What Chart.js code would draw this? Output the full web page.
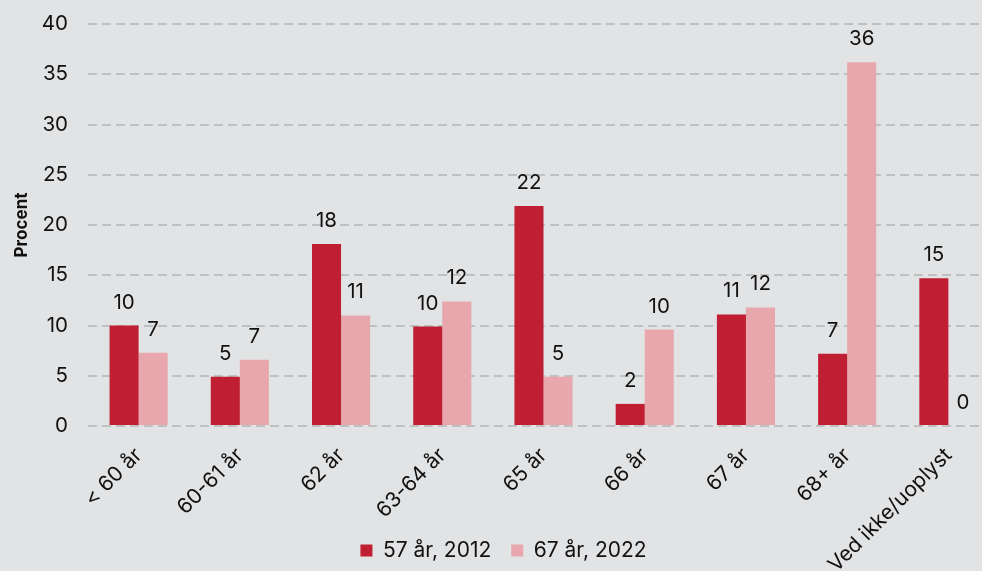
<!DOCTYPE html>
<html><head><meta charset="utf-8">
<script src="https://cdn.jsdelivr.net/npm/chart.js@4/dist/chart.umd.min.js"></script>
<style>
html,body{margin:0;padding:0;background:#e2e3e5;overflow:hidden;}
#wrap{width:982px;height:571px;position:relative;overflow:hidden;}
</style></head>
<body><div id="wrap"><canvas id="c" width="1000" height="571"></canvas></div>
<script>
const categories = ["< 60 år","60-61 år","62 år","63-64 år","65 år","66 år","67 år","68+ år","Ved ikke/uoplyst"];
const series2012 = [10.0, 4.9, 18.1, 9.9, 21.9, 2.2, 11.1, 7.2, 14.7];
const series2022 = [7.3, 6.6, 11.0, 12.4, 4.9, 9.6, 11.8, 36.2, 0];
const seriesNames = ["57 år, 2012","67 år, 2022"];
const yTicks = [0,5,10,15,20,25,30,35,40];

const FONT = "Inter, 'Noto Sans', sans-serif";

const labelPlugin = {
  id:'barLabels',
  afterDatasetsDraw(chart){
    const ctx = chart.ctx;
    ctx.save();
    ctx.font = "20.5px " + FONT;
    ctx.fillStyle = "#111";
    ctx.textAlign = "center";
    ctx.textBaseline = "alphabetic";
    chart.data.datasets.forEach((ds,i)=>{
      const meta = chart.getDatasetMeta(i);
      meta.data.forEach((bar,j)=>{
        const v = ds.data[j];
        ctx.fillText(String(Math.round(v)), bar.x, bar.y - 17);
      });
    });
    ctx.restore();
  }
};

new Chart(document.getElementById('c'), {
  type:'bar',
  data:{
    labels:categories,
    datasets:[
      {label:seriesNames[0], data:series2012, backgroundColor:'#c01e32', categoryPercentage:0.574, barPercentage:1},
      {label:seriesNames[1], data:series2022, backgroundColor:'#e8a7ac', categoryPercentage:0.574, barPercentage:1}
    ]
  },
  options:{
    responsive:false,
    animation:false,
    layout:{padding:{top:24,right:1,left:8,bottom:0}},
    plugins:{
      legend:{
        position:'bottom',
        labels:{boxWidth:12, boxHeight:12, font:{family:FONT,size:21}, color:'#111', padding:20}
      },
      tooltip:{enabled:false}
    },
    scales:{
      x:{
        grid:{display:false, drawTicks:false},
        border:{display:false},
        ticks:{maxRotation:45, minRotation:45, font:{family:FONT,size:21}, color:'#111', padding:17},
        afterFit(scale){ scale.height = 94; scale._computeLabelArea = () => undefined; }
      },
      y:{
        min:0, max:40,
        afterBuildTicks(axis){ axis.ticks = yTicks.map(v=>({value:v})); },
        grid:{color:'#bfc0c2', lineWidth:2, drawTicks:false},
        border:{display:false, dash:[9,5]},
        ticks:{font:{family:FONT,size:20.5}, color:'#111', padding:20},
        title:{display:true, text:'Procent', font:{family:FONT,size:17,weight:'bold'}, color:'#111', padding:4},
        afterFit(scale){ scale.width = 80; scale.paddingTop = 0; scale.paddingBottom = 0; }
      }
    }
  },
  plugins:[labelPlugin]
});
</script></body></html>
